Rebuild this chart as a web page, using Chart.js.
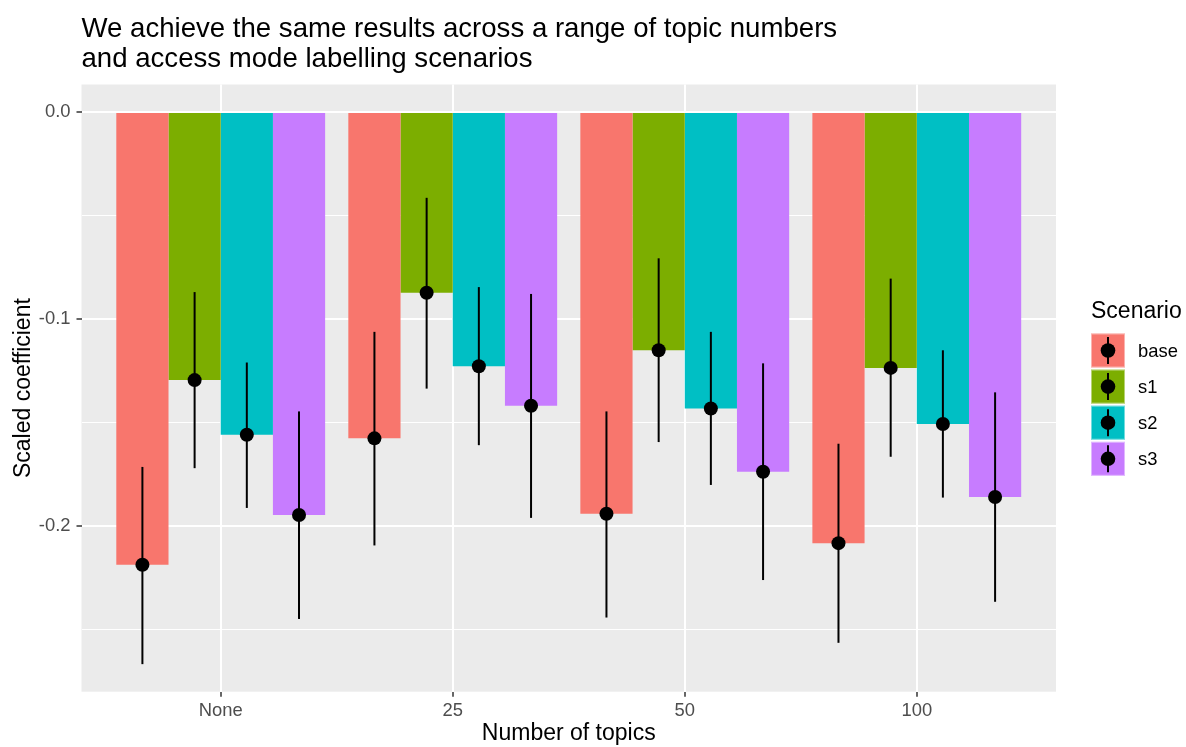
<!DOCTYPE html>
<html>
<head>
<meta charset="utf-8">
<title>Scaled coefficient by number of topics</title>
<script src="https://cdn.jsdelivr.net/npm/chart.js@4.4.0/dist/chart.umd.min.js"></script>
<style>
  html, body { margin: 0; padding: 0; background: #fff; }
  #chart { display: block; }
</style>
</head>
<body>
<canvas id="chart" width="1186" height="747"></canvas>
<script>
/* ── Data ── */
const topics    = ['None', '25', '50', '100'];
const topicPos  = [1, 2, 3, 4];
const scenarios = ['base', 's1', 's2', 's3'];
const colors    = ['#F8766D', '#7CAE00', '#00BFC4', '#C77CFF'];

// point estimates (bar heights)
const estBase = [-0.2185, -0.1575, -0.1939, -0.2081];
const estS1   = [-0.1294, -0.0872, -0.1150, -0.1235];
const estS2   = [-0.1558, -0.1227, -0.1431, -0.1506];
const estS3   = [-0.1945, -0.1418, -0.1736, -0.1858];

// interval lower ends
const loBase = [-0.2665, -0.2092, -0.2440, -0.2562];
const loS1   = [-0.1719, -0.1335, -0.1593, -0.1664];
const loS2   = [-0.1911, -0.1608, -0.1800, -0.1861];
const loS3   = [-0.2447, -0.1959, -0.2259, -0.2364];

// interval upper ends
const hiBase = [-0.1713, -0.1061, -0.1445, -0.1601];
const hiS1   = [-0.0869, -0.0414, -0.0706, -0.0804];
const hiS2   = [-0.1209, -0.0845, -0.1061, -0.1150];
const hiS3   = [-0.1445, -0.0878, -0.1213, -0.1353];

const yTickValues = [-0.25, -0.2, -0.15, -0.1, -0.05, 0];
const yTickLabels = ['', '-0.2', '', '-0.1', '', '0.0'];

const estimates = [estBase, estS1, estS2, estS3];
const lows      = [loBase, loS1, loS2, loS3];
const highs     = [hiBase, hiS1, hiS2, hiS3];

const FONT = "'Liberation Sans', Arial, sans-serif";
Chart.defaults.font.family = FONT;

/* ── Grey panel behind the plot ── */
const panelBackground = {
  id: 'panelBackground',
  beforeDraw(chart) {
    const { ctx, chartArea: a } = chart;
    ctx.save();
    ctx.fillStyle = '#FFFFFF';
    ctx.fillRect(0, 0, chart.width, chart.height);
    ctx.fillStyle = '#EBEBEB';
    ctx.fillRect(a.left, a.top, a.right - a.left, a.bottom - a.top);
    ctx.restore();
  }
};

/* ── Point + interval on each bar ── */
const pointRanges = {
  id: 'pointRanges',
  afterDatasetsDraw(chart) {
    const { ctx } = chart;
    const y = chart.scales.y;
    ctx.save();
    ctx.strokeStyle = '#000';
    ctx.fillStyle = '#000';
    ctx.lineWidth = 2;
    scenarios.forEach((s, k) => {
      chart.getDatasetMeta(k).data.forEach((bar, i) => {
        ctx.beginPath();
        ctx.moveTo(bar.x, y.getPixelForValue(lows[k][i]));
        ctx.lineTo(bar.x, y.getPixelForValue(highs[k][i]));
        ctx.stroke();
        ctx.beginPath();
        ctx.arc(bar.x, y.getPixelForValue(estimates[k][i]), 7, 0, Math.PI * 2);
        ctx.fill();
      });
    });
    ctx.restore();
  }
};

/* ── Title and legend, ggplot style ── */
const annotations = {
  id: 'annotations',
  afterDraw(chart) {
    const { ctx, chartArea: a } = chart;
    ctx.save();
    ctx.fillStyle = '#000';
    ctx.textAlign = 'left';
    ctx.textBaseline = 'alphabetic';
    ctx.font = `27.6px ${FONT}`;
    ctx.fillText('We achieve the same results across a range of topic numbers', a.left, 36.7);
    ctx.fillText('and access mode labelling scenarios', a.left, 66.7);

    // legend
    const lx = 1091, keySize = 34, top = 333.5, step = 36.1;
    ctx.font = `23px ${FONT}`;
    ctx.fillText('Scenario', lx, 318.3);
    ctx.font = `18.4px ${FONT}`;
    scenarios.forEach((s, k) => {
      const ky = top + k * step;
      const cx = lx + keySize / 2, cy = ky + keySize / 2;
      ctx.fillStyle = colors[k];
      ctx.fillRect(lx, ky, keySize, keySize);
      ctx.strokeStyle = 'rgba(255,255,255,0.45)';
      ctx.lineWidth = 1;
      ctx.strokeRect(lx + 0.5, ky + 0.5, keySize - 1, keySize - 1);
      ctx.strokeStyle = '#000';
      ctx.lineWidth = 2;
      ctx.beginPath();
      ctx.moveTo(cx, ky + 3.5);
      ctx.lineTo(cx, ky + keySize - 3.5);
      ctx.stroke();
      ctx.fillStyle = '#000';
      ctx.beginPath();
      ctx.arc(cx, cy, 7.3, 0, Math.PI * 2);
      ctx.fill();
      ctx.textBaseline = 'middle';
      ctx.fillText(s, 1138, cy + 1);
    });
    ctx.restore();
  }
};

/* ── Chart ── */
new Chart(document.getElementById('chart'), {
  type: 'bar',
  data: {
    datasets: scenarios.map((s, k) => ({
      label: s,
      data: topicPos.map((x, i) => ({ x, y: estimates[k][i] })),
      backgroundColor: colors[k],
      borderWidth: 0,
      categoryPercentage: 0.9,
      barPercentage: 1.0,
    })),
  },
  options: {
    responsive: false,
    animation: false,
    layout: { padding: { top: 84.5, right: 130, left: 0, bottom: 0 } },
    plugins: {
      legend: { display: false },
      tooltip: { enabled: false },
    },
    scales: {
      x: {
        type: 'linear',
        min: 0.4, max: 4.6,
        offset: false,
        afterBuildTicks: axis => { axis.ticks = topicPos.map(v => ({ value: v })); },
        afterFit: axis => { axis.height = 55.3; },
        border: { display: false },
        grid: { offset: false, color: '#FFFFFF', lineWidth: 2, tickColor: '#333333', tickWidth: 1.5, tickLength: 5 },
        ticks: {
          autoSkip: false, maxRotation: 0, padding: 3,
          color: '#4D4D4D', font: { size: 18.4 },
          callback: (v, i) => topics[i],
        },
        title: {
          display: true, text: 'Number of topics',
          color: '#000', font: { size: 23 }, padding: { top: 0, bottom: 0 },
        },
      },
      y: {
        type: 'linear',
        min: -0.2798, max: 0.0133,
        afterBuildTicks: axis => { axis.ticks = yTickValues.map(v => ({ value: v })); },
        afterFit: axis => { axis.width = 81.5; },
        border: { display: false },
        grid: {
          color: '#FFFFFF',
          lineWidth: ctx => (yTickLabels[ctx.index] ? 2 : 1),
          tickColor: ctx => (yTickLabels[ctx.index] ? '#333333' : 'rgba(0,0,0,0)'),
          tickWidth: 1.5, tickLength: 5,
        },
        ticks: {
          autoSkip: false, padding: 6,
          color: '#4D4D4D', font: { size: 18.4 },
          callback: (v, i) => yTickLabels[i],
        },
        title: {
          display: true, text: 'Scaled coefficient',
          color: '#000', font: { size: 23 }, padding: { top: 10, bottom: 0 },
        },
      },
    },
  },
  plugins: [panelBackground, pointRanges, annotations],
});
</script>
</body>
</html>
